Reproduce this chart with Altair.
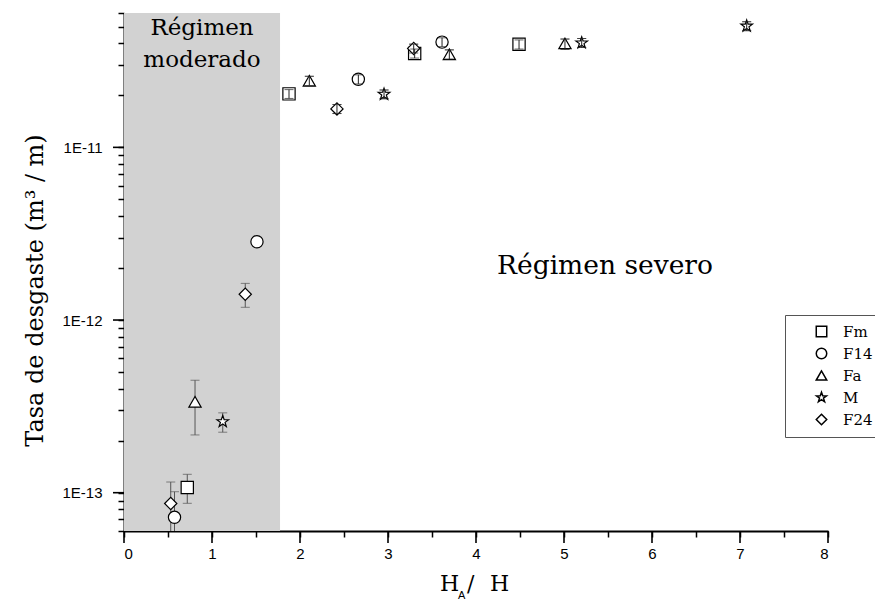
import altair as alt
import pandas as pd

# ---- data ----
series = ["Fm", "Fm", "Fm", "Fm",
          "F14", "F14", "F14", "F14",
          "Fa", "Fa", "Fa", "Fa",
          "M", "M", "M", "M",
          "F24", "F24", "F24", "F24"]
ha_h = [0.719, 1.875, 3.303, 4.489,
        0.574, 1.511, 2.663, 3.614,
        0.807, 2.106, 3.697, 5.011,
        1.122, 2.955, 5.201, 7.076,
        0.531, 1.378, 2.420, 3.292]
rate = [1.072e-13, 2.04e-11, 3.50e-11, 3.95e-11,
        7.20e-14, 2.84e-12, 2.48e-11, 4.07e-11,
        3.36e-13, 2.43e-11, 3.46e-11, 4.00e-11,
        2.58e-13, 2.03e-11, 4.03e-11, 5.04e-11,
        8.66e-14, 1.41e-12, 1.67e-11, 3.74e-11]
rate_lo = [8.68e-14, 1.92e-11, 3.29e-11, 3.71e-11,
           6.00e-14, 2.73e-12, 2.33e-11, 3.83e-11,
           2.16e-13, 2.28e-11, 3.25e-11, 3.70e-11,
           2.24e-13, 1.91e-11, 3.79e-11, 4.74e-11,
           6.00e-14, 1.185e-12, 1.57e-11, 3.52e-11]
rate_hi = [1.278e-13, 2.16e-11, 3.71e-11, 4.19e-11,
           1.013e-13, 2.95e-12, 2.63e-11, 4.31e-11,
           4.48e-13, 2.58e-11, 3.67e-11, 4.24e-11,
           2.90e-13, 2.15e-11, 4.27e-11, 5.34e-11,
           1.153e-13, 1.63e-12, 1.77e-11, 3.96e-11]
# lower caps are drawn only where the bar ends inside the plot
has_lo_cap = [True, True, True, True,
              False, True, True, True,
              True, True, True, True,
              True, True, True, True,
              False, True, True, True]

series_order = ["Fm", "F14", "Fa", "M", "F24"]
star = ("M0,-1L0.235,-0.324L0.951,-0.309L0.380,0.124L0.588,0.809"
        "L0,0.4L-0.588,0.809L-0.380,0.124L-0.951,-0.309L-0.235,-0.324Z")
shapes = ["square", "circle", "triangle-up", star, "diamond"]

moderate_limit = [0.0, 1.773]  # shaded "Régimen moderado" band

x_ticks = [0, 0.5, 1, 1.5, 2, 2.5, 3, 3.5, 4, 4.5, 5, 5.5, 6, 6.5, 7, 7.5, 8]
x_major = [0, 1, 2, 3, 4, 5, 6, 7, 8]
y_ticks = [6e-14, 7e-14, 8e-14, 9e-14,
           1e-13, 2e-13, 3e-13, 4e-13, 5e-13, 6e-13, 7e-13, 8e-13, 9e-13,
           1e-12, 2e-12, 3e-12, 4e-12, 5e-12, 6e-12, 7e-12, 8e-12, 9e-12,
           1e-11, 2e-11, 3e-11, 4e-11, 5e-11, 6e-11]
y_major = [1e-13, 1e-12, 1e-11]
x_domain = [0, 8]
y_domain = [6e-14, 6e-11]

W, H = 704, 518
SERIF = "DejaVu Serif"
SANS = "Liberation Sans"

df = pd.DataFrame({"serie": series, "x": ha_h, "y": rate,
                   "lo": rate_lo, "hi": rate_hi, "locap": has_lo_cap})
shade_df = pd.DataFrame({"x0": [moderate_limit[0]], "x1": [moderate_limit[1]]})

is_decade = "abs(log(datum.value)/LN10 - round(log(datum.value)/LN10)) < 0.01"

xs = alt.Scale(domain=x_domain, nice=False, zero=False)
ys = alt.Scale(type="log", domain=y_domain, nice=False)
shape_scale = alt.Scale(domain=series_order, range=shapes)

x_axis = alt.Axis(values=x_ticks, title=None, grid=False,
                  labelExpr="datum.value % 1 == 0 ? format(datum.value, 'd') : ''",
                  tickSize=6, labelPadding=9, labelOverlap=False,
                  labelFont=SANS, labelFontSize=15, labelColor="black")
y_axis = alt.Axis(values=y_ticks, grid=False,
                  labelExpr=is_decade + " ? '1E' + round(log(datum.value)/LN10) : ''",
                  tickSize=6, labelOverlap=False, labelPadding=16,
                  labelFont=SANS, labelFontSize=15, labelColor="black",
                  title="Tasa de desgaste (m³ / m)", titleFont=SERIF,
                  titleFontSize=24, titleFontWeight="normal", titleColor="black",
                  titleX=-77, titleY=277)

base = alt.Chart(df)

shade = alt.Chart(shade_df).mark_rect(color="#d2d2d2").encode(
    x=alt.X("x0:Q", scale=xs, axis=x_axis),
    x2="x1:Q",
    y=alt.value(0), y2=alt.value(H))

err = base.mark_rule(color="#555555", strokeWidth=1).encode(
    x=alt.X("x:Q", scale=xs), y=alt.Y("lo:Q", scale=ys, axis=y_axis), y2="hi:Q")
cap_lo = base.transform_filter(alt.datum.locap).mark_tick(
    orient="horizontal", size=9, thickness=1, color="#555555").encode(
    x=alt.X("x:Q", scale=xs), y=alt.Y("lo:Q", scale=ys))
cap_hi = base.mark_tick(orient="horizontal", size=9, thickness=1,
                        color="#555555").encode(
    x=alt.X("x:Q", scale=xs), y=alt.Y("hi:Q", scale=ys))

points = base.mark_point(filled=False, color="black", fill="white", fillOpacity=1,
                         strokeWidth=1.2, opacity=1, size=150).encode(
    x=alt.X("x:Q", scale=xs),
    y=alt.Y("y:Q", scale=ys),
    shape=alt.Shape("serie:N", scale=shape_scale,
                    legend=alt.Legend(title=None, orient="none",
                                      legendX=661, legendY=302,
                                      padding=9, symbolOffset=20, labelOffset=14,
                                      rowPadding=5, symbolSize=110,
                                      labelFont=SERIF, labelFontSize=15, labelColor="black",
                                      strokeColor="#555555")))

severe = base.transform_filter(alt.datum.x > moderate_limit[1])
err_in = severe.mark_rule(color="#222222", strokeWidth=1).encode(
    x=alt.X("x:Q", scale=xs), y=alt.Y("lo:Q", scale=ys), y2="hi:Q")
cap_in_lo = severe.mark_tick(orient="horizontal", size=9, thickness=1, color="#222222").encode(
    x=alt.X("x:Q", scale=xs), y=alt.Y("lo:Q", scale=ys))
cap_in_hi = severe.mark_tick(orient="horizontal", size=9, thickness=1, color="#222222").encode(
    x=alt.X("x:Q", scale=xs), y=alt.Y("hi:Q", scale=ys))

# longer major ticks placed through the same scales
x_major_ticks = alt.Chart(pd.DataFrame({"v": x_major})).mark_rule(
    color="black", strokeWidth=1.6).encode(
    x=alt.X("v:Q", scale=xs), y=alt.value(H), y2=alt.value(H + 12))
y_major_ticks = alt.Chart(pd.DataFrame({"v": y_major})).mark_rule(
    color="black", strokeWidth=1.6).encode(
    y=alt.Y("v:Q", scale=ys), x=alt.value(-11), x2=alt.value(0))


def label(text, x, y, size, font=SERIF, align="center"):
    return alt.Chart(pd.DataFrame({"t": [text]})).mark_text(
        font=font, fontSize=size, align=align, baseline="alphabetic", color="black"
    ).encode(text="t:N", x=alt.value(x), y=alt.value(y))


texts = [
    label("Régimen", 78, 22, 23),
    label("moderado", 78, 54, 23),
    label("Régimen severo", 481, 261, 26.5),
    label("H", 316, 578, 22, align="left"),
    label("A", 334, 586, 11, font=SANS, align="left"),
    label("/", 343, 578, 22, align="left"),
    label("H", 366, 578, 22, align="left"),
]

chart = alt.layer(shade, err, cap_lo, cap_hi, points, err_in, cap_in_lo, cap_in_hi,
                  x_major_ticks, y_major_ticks, *texts).properties(
    width=W, height=H, autosize="none",
    padding={"left": 116, "top": 5, "right": 47, "bottom": 74},
    background="white",
).configure_view(stroke=None).configure_axis(
    domainColor="black", domainWidth=2, tickColor="black", tickWidth=1.5,
)

chart.save("out.html", embed_options={"renderer": "svg", "actions": False})
